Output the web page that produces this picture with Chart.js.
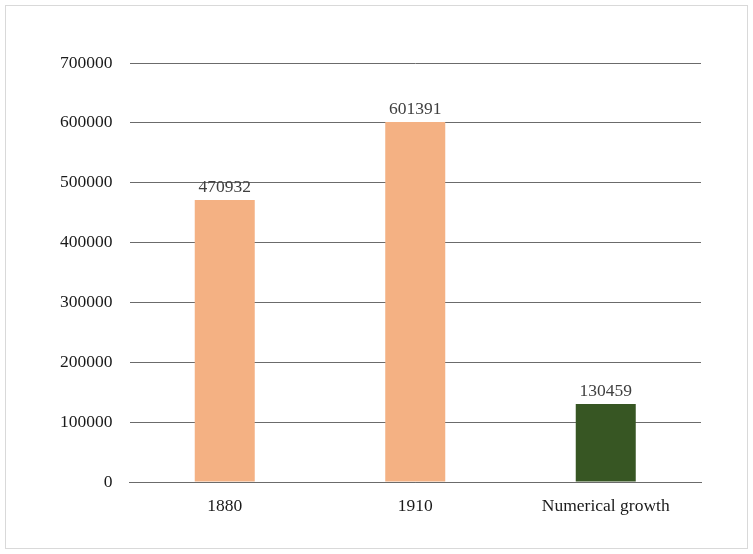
<!DOCTYPE html>
<html>
<head>
<meta charset="utf-8">
<script src="https://cdn.jsdelivr.net/npm/chart.js@4"></script>
<style>
  body { margin: 0; background: #fff; }
  .frame { position: absolute; left: 5px; top: 5px; width: 741px; height: 542px; border: 1px solid #d9d9d9; }
  .wrap { position: absolute; left: 0; top: 0; width: 753px; height: 554px; }
</style>
</head>
<body>
<div class="frame"></div>
<div class="wrap"><canvas id="myChart"></canvas></div>
<script>
const categories = ['1880', '1910', 'Numerical growth'];
const values = [470932, 601391, 130459];
const barColors = ['#f4b183', '#f4b183', '#375623'];

const serif = '"Liberation Serif", "Times New Roman", serif';

// draw the value above each bar
const valueLabels = {
    id: 'valueLabels',
    afterDatasetsDraw(chart) {
        const ctx = chart.ctx;
        const meta = chart.getDatasetMeta(0);
        ctx.save();
        ctx.font = '17.5px ' + serif;
        ctx.fillStyle = '#404040';
        ctx.textAlign = 'center';
        ctx.textBaseline = 'bottom';
        meta.data.forEach((bar, i) => {
            ctx.fillText(values[i], bar.x, bar.y - 4);
        });
        ctx.restore();
    }
};

const config = {
    type: 'bar',
    data: {
        labels: categories,
        datasets: [{
            data: values,
            backgroundColor: barColors,
            barPercentage: 0.63,
            categoryPercentage: 0.5
        }]
    },
    options: {
        responsive: true,
        maintainAspectRatio: false,
        animation: false,
        plugins: {
            legend: { display: false },
            tooltip: { enabled: false }
        },
        layout: {
            padding: { left: 43, right: 52, top: 63, bottom: 23 }
        },
        scales: {
            x: {
                grid: { display: false, drawTicks: false },
                border: { color: '#6b6b6b', width: 1 },
                ticks: {
                    color: '#1a1a1a',
                    padding: 14,
                    font: { family: serif, size: 17.5 }
                }
            },
            y: {
                min: 0,
                max: 700000,
                grid: { color: '#6b6b6b', drawTicks: false },
                border: { display: false },
                ticks: {
                    stepSize: 100000,
                    color: '#1a1a1a',
                    padding: 17,
                    font: { family: serif, size: 17.5 },
                    callback: (v) => String(v)
                }
            }
        }
    },
    plugins: [valueLabels]
};

const myChart = new Chart(document.getElementById('myChart'), config);
</script>
</body>
</html>
